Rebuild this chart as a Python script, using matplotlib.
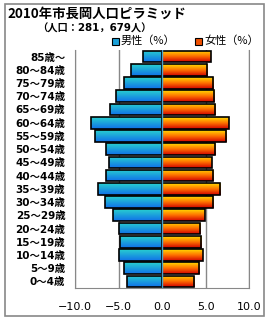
import numpy as np
import matplotlib.pyplot as plt
from matplotlib.patches import Rectangle
from matplotlib.colors import LinearSegmentedColormap

plt.rcParams['font.family'] = ['Noto Sans CJK JP', 'DejaVu Sans']
mixed = ['DejaVu Sans', 'Noto Sans CJK JP']

# age groups, bottom to top
ages = ['0～4歳', '5～9歳', '10～14歳', '15～19歳', '20～24歳', '25～29歳',
        '30～34歳', '35～39歳', '40～44歳', '45～49歳', '50～54歳', '55～59歳',
        '60～64歳', '65～69歳', '70～74歳', '75～79歳', '80～84歳', '85歳～']
male = [4.0, 4.4, 4.9, 4.8, 5.0, 5.6, 6.5, 7.4, 6.4, 6.1, 6.4, 7.7,
        8.2, 6.0, 5.3, 4.4, 3.6, 2.2]
female = [3.7, 4.3, 4.7, 4.5, 4.4, 4.9, 5.9, 6.7, 5.9, 5.7, 6.1, 7.4,
          7.7, 6.1, 6.0, 5.9, 5.2, 5.6]
xticks = [-10, -5, 0, 5, 10]

male_cmap = LinearSegmentedColormap.from_list('m', ['#1070e8', '#28d0d0'])
female_cmap = LinearSegmentedColormap.from_list('f', ['#d00000', '#ff7000', '#ffdc00'])

fig = plt.figure(figsize=(2.7, 3.2), dpi=100)
ax = fig.add_axes([75 / 270, 1 - 288 / 320, 174 / 270, 238 / 320])

y = np.arange(len(ages))
grad = np.linspace(0, 1, 64).reshape(-1, 1)


def gradient_bars(bars, cmap):
    for b in bars:
        x0, y0 = b.get_x(), b.get_y()
        w, h = b.get_width(), b.get_height()
        im = ax.imshow(grad, cmap=cmap, aspect='auto', origin='lower',
                       extent=[x0, x0 + w, y0, y0 + h], zorder=2)
        im.set_clip_path(b)


mb = ax.barh(y, [-v for v in male], height=0.88, facecolor='none',
             edgecolor='black', linewidth=1.2, zorder=3)
fb = ax.barh(y, female, height=0.88, facecolor='none',
             edgecolor='black', linewidth=1.2, zorder=3)
gradient_bars(mb, male_cmap)
gradient_bars(fb, female_cmap)
ax.axvline(0, color='#4aa0c8', linewidth=1.0, zorder=4)

ax.set_xlim(-10, 10)
ax.set_ylim(-0.5, len(ages) - 0.5)
ax.set_xticks(xticks)
ax.set_xticklabels(['−%.1f' % abs(t) if t < 0 else '%.1f' % t for t in xticks],
                   fontsize=8, family=mixed)
ax.set_yticks(y)
ax.set_yticklabels(ages, fontsize=7.5, family=mixed, fontweight='bold')
ax.tick_params(axis='y', length=0, pad=7)
ax.tick_params(axis='x', length=0, pad=10)
for t in xticks:
    if t != 0:
        ax.axvline(t, color='#888888', linewidth=1.0, zorder=1)
ax.spines['top'].set_visible(False)
for s in ['left', 'right', 'bottom']:
    ax.spines[s].set_color('#888888')

# outer frame
fig.patches.append(Rectangle((5 / 270, 1 - 316 / 320), 259 / 270, 312 / 320,
                             transform=fig.transFigure, fill=False,
                             edgecolor='#888888', linewidth=1.2))

fig.text(7 / 270, 1 - 14 / 320, '2010年市長岡人口ピラミッド', fontsize=9.6,
         fontweight='bold', va='center', ha='left')
fig.text(37 / 270, 1 - 29 / 320, '（人口：281，679人）', fontsize=7.4,
         fontweight='bold', va='center', ha='left', family=mixed)

# legend
fig.patches.append(Rectangle((112 / 270, 1 - 44.5 / 320), 7 / 270, 7 / 320,
                             transform=fig.transFigure, facecolor='#1aa0d8',
                             edgecolor='black', linewidth=0.8))
fig.text(121 / 270, 1 - 41 / 320, '男性（%）', fontsize=8, va='center', ha='left')
fig.patches.append(Rectangle((195 / 270, 1 - 44.5 / 320), 7 / 270, 7 / 320,
                             transform=fig.transFigure, facecolor='#f05000',
                             edgecolor='black', linewidth=0.8))
fig.text(204 / 270, 1 - 41 / 320, '女性（%）', fontsize=8, va='center', ha='left')

fig.savefig('out.png', dpi=100)
